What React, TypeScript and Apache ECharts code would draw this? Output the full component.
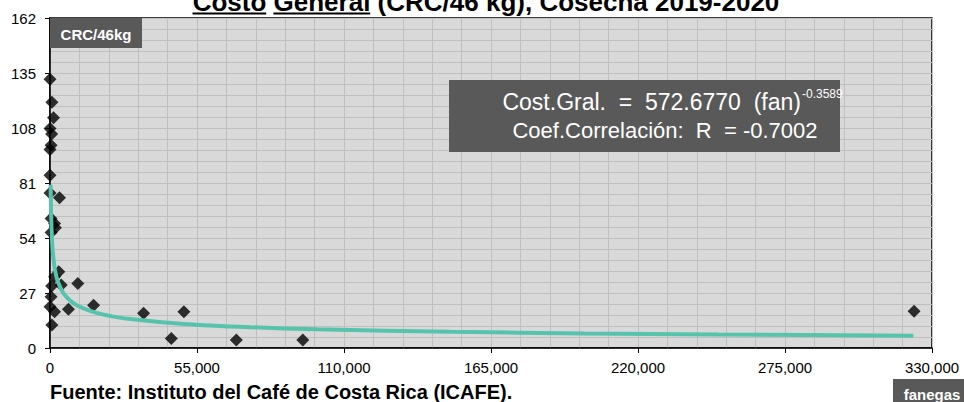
import React, { useEffect, useRef } from "react";
import * as echarts from "echarts";

const titleText = "Costo General (CRC/46 kg), Cosecha 2019-2020";
const sourceText = "Fuente: Instituto del Café de Costa Rica (ICAFE).";
const yUnit = "CRC/46kg";
const xUnit = "fanegas";
const eqLine1 = "Cost.Gral.  =  572.6770  (fan)";
const eqExp = "-0.3589";
const eqLine2 = "Coef.Correlación:  R  = -0.7002";

// scatter observations (fanegas, CRC/46kg)
const costX = [0, 700, 1300, 0, 600, 400, 0, 0, 0, 3560, 400, 1700, 2000, 400, 3300, 1700, 4200, 600, 10400, 400, 0, 1700, 6900, 16300, 700, 35000, 45400, 50100, 69700, 94600, 323300];
const costY = [131.9, 120.7, 113, 107.7, 105, 99.5, 97.5, 84.8, 76.1, 73.7, 63.6, 61.1, 59, 56.7, 37.4, 35, 30.9, 30.4, 31.7, 25.2, 20.2, 17.8, 19, 21, 11.3, 17, 4.7, 17.8, 3.9, 3.9, 18.1];

// fitted trend curve
const trendX = [240, 300, 400, 500, 700, 1000, 1500, 2000, 3000, 5000, 7500, 10000, 15000, 20000, 30000, 50000, 75000, 100000, 150000, 200000, 250000, 323000];
const trendY = [80.1, 73.9, 66.7, 61.6, 54.5, 48.0, 41.5, 37.4, 32.4, 26.9, 23.3, 21.0, 18.2, 16.4, 14.2, 11.8, 10.2, 9.19, 7.95, 7.17, 6.62, 6.03];

const xMin = 0, xMax = 330000, xStep = 55000;
const yMin = 0, yMax = 162, yStep = 27;

export default function App() {
  const ref = useRef<HTMLDivElement>(null);
  useEffect(() => {
    const chart = echarts.init(ref.current!, null, { renderer: "svg" });
    const font = "Arial, 'Liberation Sans', sans-serif";
    const titleSize = 26;
    const titleW = 587;
    const tStart = 486 - titleW / 2;
    chart.setOption({
      animation: false,
      backgroundColor: "#ffffff",
      grid: {
        left: 50, right: 32, top: 18, bottom: 54, show: true,
        backgroundColor: "#d9d9d9", borderColor: "#000", borderWidth: 1.5,
      },
      xAxis: {
        type: "value", min: xMin, max: xMax, interval: xStep,
        axisLine: { show: true, onZero: false, lineStyle: { color: "#000", width: 1.5 } },
        axisTick: { show: true, length: 5, lineStyle: { color: "#000" } },
        axisLabel: {
          color: "#000", fontSize: 15, fontFamily: font, margin: 12,
          formatter: (v: number) => v.toLocaleString("en-US"),
        },
        splitLine: { show: true, lineStyle: { color: "#bfbfbf", width: 1 } },
        minorTick: { show: false, splitNumber: 5 },
        minorSplitLine: { show: true, lineStyle: { color: "#bfbfbf", width: 1 } },
      },
      yAxis: {
        type: "value", min: yMin, max: yMax, interval: yStep,
        axisLine: { show: true, onZero: false, lineStyle: { color: "#000", width: 1.5 } },
        axisTick: { show: true, length: 5, lineStyle: { color: "#000" } },
        axisLabel: { color: "#000", fontSize: 15, fontFamily: font, margin: 14 },
        splitLine: { show: true, lineStyle: { color: "#bfbfbf", width: 1 } },
        minorTick: { show: false, splitNumber: 5 },
        minorSplitLine: { show: true, lineStyle: { color: "#bfbfbf", width: 1 } },
      },
      series: [
        {
          type: "scatter",
          data: costX.map((x, i) => [x, costY[i]]),
          symbol: "diamond",
          symbolSize: 13,
          itemStyle: { color: "#000" },
          z: 2,
        },
        {
          type: "line",
          data: trendX.map((x, i) => [x, trendY[i]]),
          smooth: 0.3,
          showSymbol: false,
          symbol: "none",
          lineStyle: { color: "#56c3ad", width: 4 },
          z: 3,
        },
      ],
      graphic: [
        {
          type: "text", x: 486, y: 2,
          style: { text: titleText, fill: "#000", font: `bold ${titleSize}px ${font}`, align: "center", verticalAlign: "middle" },
        },
        { type: "line", shape: { x1: tStart, y1: 13.5, x2: tStart + 73.7, y2: 13.5 }, style: { stroke: "#000", lineWidth: 2 } },
        { type: "line", shape: { x1: tStart + 80.9, y1: 13.5, x2: tStart + 177.7, y2: 13.5 }, style: { stroke: "#000", lineWidth: 2 } },
        { type: "rect", shape: { x: 50, y: 18, width: 92, height: 30 }, style: { fill: "#595959" }, z: 10 },
        {
          type: "text", x: 96, y: 34, z: 11,
          style: { text: yUnit, fill: "#fff", font: `bold 15px ${font}`, align: "center", verticalAlign: "middle" },
        },
        { type: "rect", shape: { x: 449, y: 80, width: 391, height: 72 }, style: { fill: "#595959" }, z: 10 },
        {
          type: "text", x: 801, y: 102, z: 11,
          style: { text: eqLine1, fill: "#fff", font: `23px ${font}`, align: "right", verticalAlign: "middle" },
        },
        {
          type: "text", x: 802, y: 94, z: 11,
          style: { text: eqExp, fill: "#fff", font: `12px ${font}`, align: "left", verticalAlign: "middle" },
        },
        {
          type: "text", x: 665, y: 130, z: 11,
          style: { text: eqLine2, fill: "#fff", font: `22px ${font}`, align: "center", verticalAlign: "middle" },
        },
        { type: "rect", shape: { x: 893, y: 379, width: 75, height: 25 }, style: { fill: "#595959" }, z: 10 },
        {
          type: "text", x: 932, y: 394, z: 11,
          style: { text: xUnit, fill: "#fff", font: `bold 15px ${font}`, align: "center", verticalAlign: "middle" },
        },
        {
          type: "text", x: 50, y: 392,
          style: { text: sourceText, fill: "#000", font: `bold 20px ${font}`, align: "left", verticalAlign: "middle" },
        },
      ],
    });
    return () => chart.dispose();
  }, []);
  return <div ref={ref} style={{ width: 964, height: 402, position: "absolute", left: 0, top: 0 }} />;
}
